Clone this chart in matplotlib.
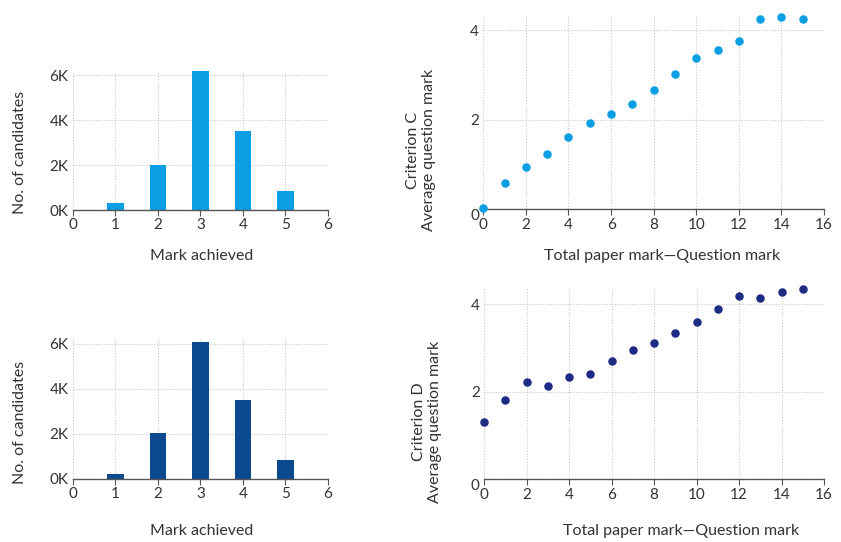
import matplotlib.pyplot as plt
from matplotlib.ticker import FuncFormatter

plt.rcParams['font.family'] = ['Lato', 'DejaVu Sans']

# mark distribution (bar charts)
marks = [1, 2, 3, 4, 5]
counts_c = [330, 2020, 6180, 3510, 845]
counts_d = [220, 2020, 6080, 3520, 840]

# total paper mark minus question mark vs average question mark
paper_marks = list(range(16))
avg_c = [0.04, 0.59, 0.94, 1.23, 1.61, 1.93, 2.13, 2.35, 2.66, 3.03,
         3.38, 3.55, 3.75, 4.26, 4.30, 4.25]
avg_d = [1.30, 1.81, 2.22, 2.14, 2.34, 2.41, 2.70, 2.95, 3.11, 3.34,
         3.60, 3.89, 4.18, 4.14, 4.27, 4.34]

light_blue = '#0A9EE2'
bar_dark = '#0B4A8E'
dot_dark = '#1F2C85'
text_col = '#333333'

W, H = 841, 542
fig = plt.figure(figsize=(W / 100, H / 100), dpi=100)


def px_axes(x0, y0, x1, y1):
    # pixel box -> figure fraction
    return fig.add_axes([x0 / W, 1 - y1 / H, (x1 - x0) / W, (y1 - y0) / H])


def style(ax):
    for s in ['top', 'right', 'left']:
        ax.spines[s].set_visible(False)
    ax.spines['bottom'].set_color('#555555')
    ax.spines['bottom'].set_linewidth(1.0)
    ax.grid(True, linestyle=(0, (1, 1.5)), color='#c8c8c8', linewidth=0.8)
    ax.set_axisbelow(True)
    ax.tick_params(axis='x', length=4, color='#555555', labelsize=11,
                   labelcolor=text_col, pad=2)
    ax.tick_params(axis='y', length=0, labelsize=11, labelcolor=text_col, pad=3)


kfmt = FuncFormatter(lambda v, p: f'{int(v / 1000)}K')


def bar_panel(ax, counts, color):
    ax.bar(marks, counts, width=0.39, color=color, zorder=2)
    ax.set_xlim(0, 6)
    ax.set_ylim(0, 6200)
    ax.set_xticks(range(7))
    ax.set_yticks([0, 2000, 4000, 6000])
    ax.yaxis.set_major_formatter(kfmt)
    style(ax)


def scatter_panel(ax, avg, color, top):
    ax.scatter(paper_marks, avg, s=26, color=color, zorder=3, clip_on=False)
    ax.set_xlim(0, 16)
    ax.set_ylim(0, top)
    ax.set_xticks(range(0, 17, 2))
    ax.set_yticks([0, 2, 4])
    style(ax)
    # the "0" label sits just below the baseline in the original
    fig.canvas.draw()
    ax.get_yticklabels()[0].set_verticalalignment('top')


ax1 = px_axes(72.7, 70.5, 328, 210)
bar_panel(ax1, counts_c, light_blue)
ax2 = px_axes(72.7, 339, 328, 479)
bar_panel(ax2, counts_d, bar_dark)

ax3 = px_axes(483.3, 14.5, 824, 209.3)
scatter_panel(ax3, avg_c, light_blue, 4.35)
ax4 = px_axes(484, 288, 824, 479.3)
scatter_panel(ax4, avg_d, dot_dark, 4.37)


def ftext(x, y, s, **kw):
    fig.text(x / W, 1 - y / H, s, ha='center', va='center', color=text_col,
             fontsize=11.5, **kw)


ftext(202, 256, 'Mark achieved')
ftext(202, 531, 'Mark achieved')
ftext(662, 256, 'Total paper mark\u2014Question mark')
ftext(681, 531, 'Total paper mark\u2014Question mark')
ftext(20, 152, 'No. of candidates', rotation=90)
ftext(20, 422, 'No. of candidates', rotation=90)
ftext(421, 150, 'Criterion C\nAverage question mark', rotation=90, linespacing=1.1)
ftext(427, 422, 'Criterion D\nAverage question mark', rotation=90, linespacing=1.1)

fig.savefig('out.png', dpi=100, facecolor='white')
